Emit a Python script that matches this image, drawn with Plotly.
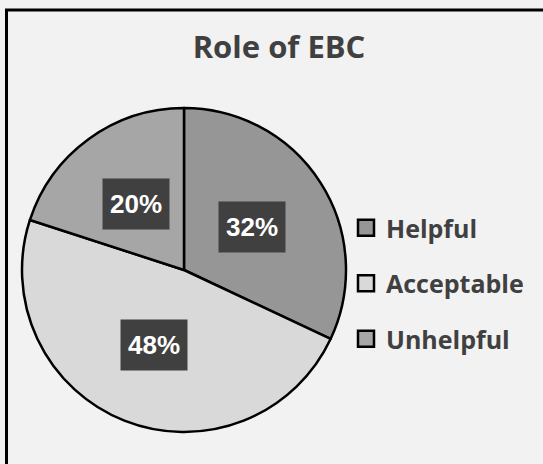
import math
import plotly.graph_objects as go

## Data

labels = ['Helpful', 'Acceptable', 'Unhelpful']
values = [32, 48, 20]
colors = ['#969696', '#d9d9d9', '#a6a6a6']

W, H = 543, 464

## Pie placement (paper coords)

dom_x = [22 / W, 346 / W]
dom_y = [1 - 432 / H, 1 - 108 / H]

fig = go.Figure()

fig.add_trace(go.Pie(labels=labels, values=values, sort=False, direction='clockwise',
                     marker=dict(colors=colors, line=dict(color='black', width=2.5)),
                     textinfo='none', showlegend=False,
                     domain=dict(x=dom_x, y=dom_y)))

## Legend from dummy traces so spacing can be controlled

for lab, col in zip(labels, colors):
    fig.add_trace(go.Scatter(x=[None], y=[None], mode='markers', name=lab, legendgroup=lab,
                             marker=dict(symbol='square', size=20, color=col,
                                         line=dict(color='black', width=2.5))))

## Percentage labels in dark boxes, placed at half radius of slice middle

xc = (dom_x[0] + dom_x[1]) / 2 * W
yc = (dom_y[0] + dom_y[1]) / 2 * H
R = (dom_x[1] - dom_x[0]) * W / 2
total = sum(values)
cum = 0
for v in values:
    mid = (cum + v / 2) / total * 2 * math.pi
    cum += v
    px_ = xc + 0.5 * R * math.sin(mid)
    py_ = yc + 0.5 * R * math.cos(mid)
    fig.add_annotation(x=px_ / W, y=py_ / H, xref='paper', yref='paper', showarrow=False,
                       xanchor='center', yanchor='middle',
                       text='<b>%d%%</b>' % round(v / total * 100),
                       font=dict(family='Liberation Sans', size=26, color='white'),
                       bgcolor='#404040', width=56, height=40, borderpad=5)

## Outer border

fig.add_shape(type='rect', xref='paper', yref='paper', x0=6.5 / W, y0=-0.05, x1=1.05, y1=1 - 10 / H,
              line=dict(color='black', width=3), fillcolor='rgba(0,0,0,0)')

fig.update_layout(
    width=W, height=H, margin=dict(l=0, r=0, t=0, b=0),
    paper_bgcolor='#f2f2f2', plot_bgcolor='#f2f2f2',
    title=dict(text='<b>Role of EBC</b>', x=279 / W, xanchor='center', y=1 - 47 / H, yanchor='middle',
               font=dict(family='Open Sans', size=31, color='#404040')),
    xaxis=dict(visible=False), yaxis=dict(visible=False),
    legend=dict(x=346 / W, y=1 - 205 / H, xanchor='left', yanchor='top', tracegroupgap=20,
                bgcolor='rgba(0,0,0,0)',
                font=dict(family='Open Sans', size=25, color='#404040', weight='bold')),
)

## page body margin off so the figure sits at the window corner
fig.write_html("out.html", config={'displayModeBar': False},
               post_script="document.body.style.margin='0';")
